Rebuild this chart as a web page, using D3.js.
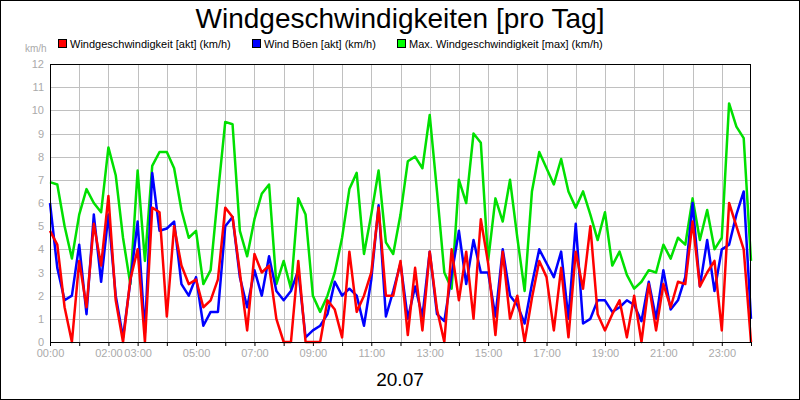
<!DOCTYPE html>
<html><head><meta charset="utf-8">
<script src="https://cdn.jsdelivr.net/npm/d3@7"></script>
<style>body{margin:0;background:#fff}svg{display:block;font-family:Arial,"Liberation Sans",sans-serif}</style>
</head><body><svg id="c" width="800" height="400"></svg>
<script>
const hours = d3.range(0, 24.01, 0.25);
const tickLabels = ["00:00","02:00","03:00","05:00","07:00","09:00","11:00","13:00","15:00","17:00","19:00","21:00","23:00"];
const tickHours = [0,2,3,5,7,9,11,13,15,17,19,21,23];
const seriesNames = ["Windgeschwindigkeit [akt] (km/h)","Wind Böen [akt] (km/h)","Max. Windgeschwindigkeit [max] (km/h)"];
const maxSpeed = [6.9,6.8,5.0,3.6, 5.5,6.6,6.0,5.6, 8.4,7.2,4.5,2.5, 7.4,3.5,7.6,8.2, 8.2,7.5,5.7,4.5, 4.8,2.5,3.1,6.4, 9.5,9.4,4.8,3.7,
 5.3,6.4,6.8,2.5, 3.5,2.3,6.2,5.5, 2.0,1.3,2.0,3.0, 4.5,6.6,7.3,3.8, 5.5,7.4,4.3,3.8, 5.5,7.8,8.0,7.5, 9.8,6.5,3.0,2.3,
 7.0,6.0,9.0,8.6, 3.5,6.2,5.2,7.0, 4.5,2.2,6.5,8.2, 7.5,6.8,7.9,6.5, 5.8,6.5,5.5,4.4, 5.6,3.3,3.9,2.9, 2.3,2.6,3.1,3.0,
 4.2,3.6,4.5,4.2, 6.2,4.4,5.7,4.0, 4.5,10.3,9.3,8.8, 3.5];
const speed = [4.8,4.2,1.5,0, 3.5,1.5,5.1,3.3, 6.3,1.8,0,2.7, 4.0,0,5.8,5.6, 1.1,5.0,3.3,2.5, 2.7,1.5,1.8,2.7, 5.8,5.4,3.0,0.5,
 3.8,3.0,3.3,1.0, 0,0,3.5,0, 0,0,1.8,1.4, 0.2,3.9,1.3,2.0, 3.0,5.8,2.0,2.0, 3.5,0.3,3.2,0.5, 3.9,1.4,0,4.0,
 1.8,3.9,1.0,5.3, 3.4,0.3,3.9,1.0, 2.0,0,1.9,3.5, 2.8,0.5,3.2,0.2, 3.9,2.3,5.0,1.2, 0.5,1.2,1.8,0.2, 2.0,0,2.5,0.5,
 2.5,1.5,2.6,2.5, 5.2,2.4,3.0,3.5, 0.5,6.0,5.0,4.0, 0];
const gusts = [6.0,3.2,1.8,2.0, 4.2,1.2,5.5,2.6, 5.5,2.0,0.2,2.6, 5.2,0.4,7.3,4.8, 4.9,5.2,2.5,2.0, 2.8,0.7,1.3,1.3, 5.0,5.4,2.8,1.5,
 3.1,2.0,3.7,2.2, 1.8,2.2,3.1,0.2, 0.5,0.7,1.2,2.6, 2.0,2.3,2.0,0.7, 2.7,5.9,1.1,2.2, 3.4,1.0,2.4,1.1, 3.9,1.2,0.9,2.9,
 4.8,2.5,4.4,3.0, 3.0,1.1,4.0,2.0, 1.6,0.8,2.5,4.0, 3.4,2.8,3.9,1.0, 5.1,0.8,1.0,1.8, 1.8,1.3,1.5,1.8, 1.6,0.9,2.6,1.0,
 3.1,1.4,1.8,2.8, 6.0,2.4,4.4,2.2, 4.0,4.2,5.5,6.5, 1.0];
const colors = ["#ff0000","#0000ff","#00e000"];

const svg = d3.select("#c");
svg.append("rect").attr("x",0.5).attr("y",0.5).attr("width",799).attr("height",399).attr("fill","#fff").attr("stroke","#000");
const L=50,R=751,T=64,B=342;
const x = d3.scaleLinear().domain([0,24]).range([L,R]);
const y = d3.scaleLinear().domain([0,12]).range([B,T]);
const g = svg.append("g");
// grid
g.selectAll(".gy").data(d3.range(1,12)).join("line").attr("x1",L).attr("x2",R)
 .attr("y1",d=>Math.round(y(d))+0.5).attr("y2",d=>Math.round(y(d))+0.5).attr("stroke","#c0c0c0");
g.selectAll(".gx").data(d3.range(1,24)).join("line").attr("y1",T).attr("y2",B)
 .attr("x1",d=>Math.round(x(d))+0.5).attr("x2",d=>Math.round(x(d))+0.5).attr("stroke","#c0c0c0");
// y axis labels
const ya = svg.append("g").attr("transform",`translate(${L},0)`)
 .call(d3.axisLeft(y).tickValues(d3.range(0,13)).tickSize(0).tickPadding(6));
ya.select(".domain").remove();
ya.selectAll("text").attr("fill","#aaa").style("font-size","11px").style("font-family","Arial,'Liberation Sans'");
svg.append("text").attr("x",25).attr("y",52).attr("fill","#aaa").style("font-size","10px").text("km/h");
// x axis
const xa = svg.append("g").attr("transform",`translate(0,${B})`)
 .call(d3.axisBottom(x).tickValues(d3.range(0,25)).tickSize(4).tickFormat(d=>{const i=tickHours.indexOf(d);return i<0?"":tickLabels[i];}).tickPadding(3));
xa.select(".domain").remove();
xa.selectAll("line").attr("stroke","#000");
xa.selectAll("text").attr("fill","#aaa").style("font-size","11px").style("font-family","Arial,'Liberation Sans'");
// lines
const line = d3.line().x((d,i)=>x(hours[i])).y(d=>y(d));
[[maxSpeed,2],[gusts,1],[speed,0]].forEach(([arr,ci])=>{
 svg.append("path").datum(arr).attr("d",line).attr("fill","none").attr("stroke",colors[ci]).attr("stroke-width",2.5).attr("stroke-linejoin","round");
});
svg.append("rect").attr("x",L+0.5).attr("y",T+0.5).attr("width",R-L-1).attr("height",B-T).attr("fill","none").attr("stroke","#000");
// title
svg.append("text").attr("x",400).attr("y",28).attr("text-anchor","middle").style("font-size","28px").text("Windgeschwindigkeiten [pro Tag]");
svg.append("text").attr("x",400).attr("y",386).attr("text-anchor","middle").style("font-size","19px").text("20.07");
// legend
const lx=[58,252,397];
seriesNames.forEach((n,i)=>{
 svg.append("rect").attr("x",lx[i]+0.5).attr("y",39.5).attr("width",8).attr("height",8).attr("fill",colors[i]==="#00e000"?"#00ff00":colors[i]).attr("stroke","#000");
 svg.append("text").attr("x",lx[i]+12).attr("y",48).style("font-size","11px").text(n);
});
</script></body></html>
